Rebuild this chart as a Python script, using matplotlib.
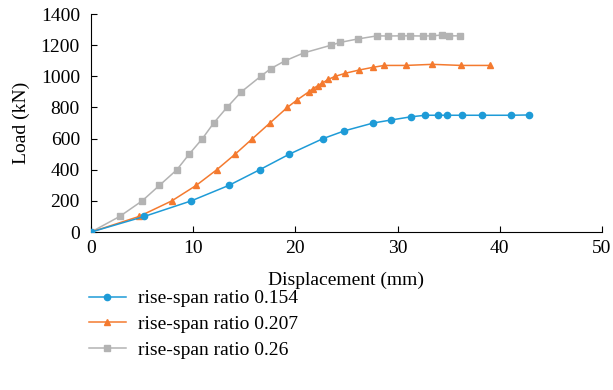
import matplotlib
matplotlib.use("Agg")
import matplotlib.pyplot as plt

# ── Data ────────────────────────────────────────────────────────────────────

disp_154 = [0, 5.2, 9.8, 13.5, 16.5, 19.4, 22.7, 24.8, 27.6, 29.4, 31.3, 32.7,
            34.0, 34.8, 36.3, 38.3, 41.1, 42.9]
load_154 = [0, 100, 200, 300, 400, 500, 600, 650, 700, 720, 740, 750,
            750, 750, 750, 750, 750, 752]

disp_207 = [0, 4.7, 7.9, 10.3, 12.3, 14.1, 15.8, 17.5, 19.2, 20.2, 21.3, 21.7,
            22.2, 22.6, 23.2, 23.9, 24.9, 26.2, 27.6, 28.7, 30.8, 33.4, 36.2, 39.0]
load_207 = [0, 100, 200, 300, 400, 500, 600, 700, 800, 850, 900, 920,
            940, 955, 980, 1000, 1020, 1040, 1058, 1070, 1070, 1077, 1070, 1070]

disp_26 = [0, 2.8, 5.0, 6.7, 8.4, 9.6, 10.9, 12.0, 13.3, 14.7, 16.6, 17.6,
           19.0, 20.8, 23.5, 24.4, 26.1, 28.0, 29.1, 30.3, 31.2, 32.5, 33.4,
           34.3, 35.0, 36.1]
load_26 = [0, 100, 200, 300, 400, 500, 600, 700, 800, 900, 1000, 1050,
           1100, 1150, 1200, 1218, 1240, 1260, 1259, 1260, 1260, 1259, 1260,
           1265, 1260, 1260]

labels = ["rise-span ratio 0.154", "rise-span ratio 0.207", "rise-span ratio 0.26"]

plt.rcParams.update({
    "font.family": ["Liberation Serif", "DejaVu Serif"],
    "font.size": 14,
    "axes.spines.top": False,
    "axes.spines.right": False,
})

fig = plt.figure(figsize=(6.13, 3.90), dpi=100)
ax = fig.add_axes([0.1485, 0.405, 0.8335, 0.559])

ax.plot(disp_154, load_154, color="#1e9bd7", lw=1.1, marker="o", ms=4.5,
        label=labels[0], zorder=4)
ax.plot(disp_207, load_207, color="#f47a2f", lw=1.1, marker="^", ms=5,
        label=labels[1], zorder=3)
ax.plot(disp_26, load_26, color="#b3b3b3", lw=1.1, marker="s", ms=4.3,
        label=labels[2], zorder=2)

ax.set_xlim(0, 50)
ax.set_ylim(0, 1400)
ax.set_xticks(range(0, 51, 10))
ax.set_yticks(range(0, 1401, 200))
ax.tick_params(direction="in", length=4, width=0.8, labelsize=14)
ax.tick_params(axis="y", pad=8)
ax.tick_params(axis="x", pad=6)
for s in ("left", "bottom"):
    ax.spines[s].set_linewidth(0.8)

ax.set_xlabel("Displacement (mm)", fontsize=14, labelpad=10)
ax.set_ylabel("Load (kN)", fontsize=14, labelpad=8)

ax.legend(loc="upper left", bbox_to_anchor=(0.145, 0.257),
          bbox_transform=fig.transFigure, frameon=False, fontsize=14,
          handlelength=1.9, labelspacing=0.42, borderpad=0, borderaxespad=0,
          handletextpad=0.65)

fig.savefig("out.png", dpi=100)
